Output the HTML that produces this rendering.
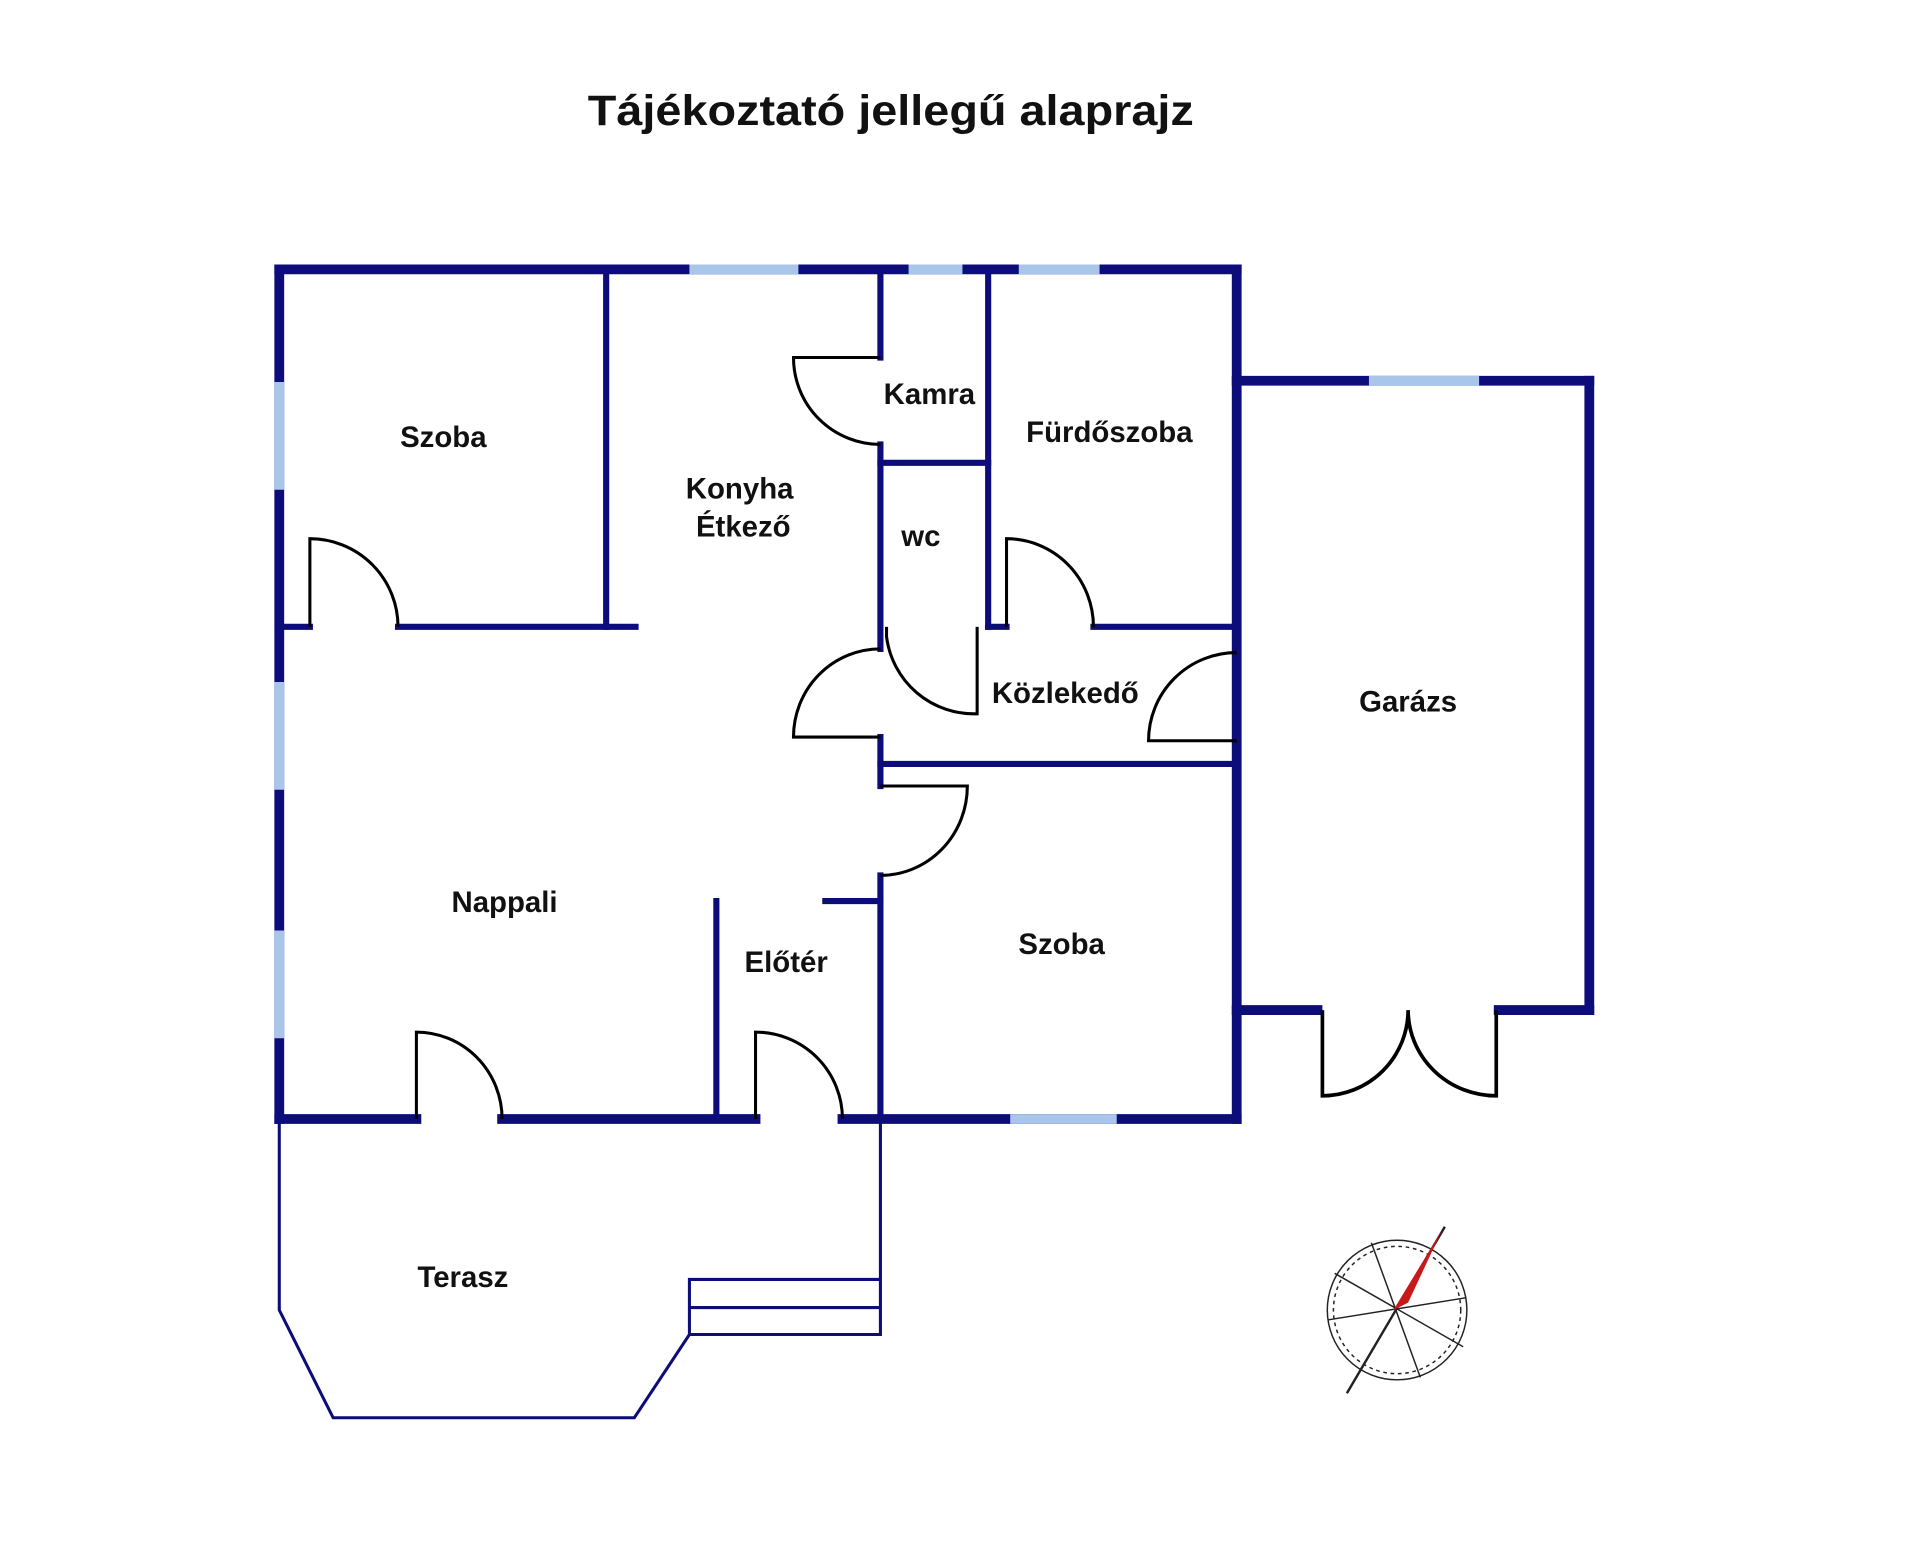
<!DOCTYPE html>
<html><head><meta charset="utf-8"><style>
html,body{margin:0;padding:0;background:#fff;}
svg{display:block;}
text{font-family:"Liberation Sans",sans-serif;font-weight:bold;fill:#111;}
</style></head><body>
<svg width="1920" height="1550" viewBox="0 0 1568 1266" xmlns="http://www.w3.org/2000/svg">
<rect width="1568" height="1266" fill="#fff"/>
<text x="480" y="102" font-size="35" textLength="495" lengthAdjust="spacingAndGlyphs">Tájékoztató jellegű alaprajz</text>
<g stroke="#0c0c7a" stroke-linecap="square" fill="none">
 <g stroke-width="8">
  <line x1="228" y1="220" x2="1010" y2="220"/>
  <line x1="228" y1="220" x2="228" y2="914"/>
  <line x1="1010" y1="220" x2="1010" y2="914"/>
  <line x1="228" y1="914" x2="340" y2="914"/>
  <line x1="410" y1="914" x2="617" y2="914"/>
  <line x1="688" y1="914" x2="1010" y2="914"/>
  <line x1="1010" y1="311" x2="1298" y2="311"/>
  <line x1="1298" y1="311" x2="1298" y2="825"/>
  <line x1="1010" y1="825" x2="1076" y2="825"/>
  <line x1="1224" y1="825" x2="1298" y2="825"/>
 </g>
 <g stroke="#a9c6ea" stroke-width="8" stroke-linecap="butt">
  <line x1="563" y1="220" x2="652" y2="220"/>
  <line x1="742" y1="220" x2="786" y2="220"/>
  <line x1="832" y1="220" x2="898" y2="220"/>
  <line x1="228" y1="312" x2="228" y2="400"/>
  <line x1="228" y1="557" x2="228" y2="645"/>
  <line x1="228" y1="760" x2="228" y2="848"/>
  <line x1="825" y1="914" x2="912" y2="914"/>
  <line x1="1118" y1="311" x2="1208" y2="311"/>
 </g>
 <g stroke-width="5">
  <line x1="495" y1="220" x2="495" y2="512"/>
  <line x1="228" y1="512" x2="253" y2="512"/>
  <line x1="325" y1="512" x2="519" y2="512"/>
  <line x1="719" y1="220" x2="719" y2="292"/>
  <line x1="719" y1="363" x2="719" y2="530"/>
  <line x1="807" y1="220" x2="807" y2="512"/>
  <line x1="719" y1="378" x2="807" y2="378"/>
  <line x1="807" y1="512" x2="822" y2="512"/>
  <line x1="893" y1="512" x2="1010" y2="512"/>
  <line x1="719" y1="602" x2="719" y2="642"/>
  <line x1="719" y1="624" x2="1010" y2="624"/>
  <line x1="719" y1="715" x2="719" y2="914"/>
  <line x1="674" y1="736" x2="719" y2="736"/>
  <line x1="585" y1="736" x2="585" y2="914"/>
 </g>
 <g stroke-width="2.5" stroke-linecap="butt">
  <polyline points="228,916 228,1070 272,1158 518,1158 563,1090 719,1090 719,916"/>
  <polyline points="563,1090 563,1045 719,1045"/>
  <line x1="563" y1="1068" x2="719" y2="1068"/>
 </g>
</g>
<g stroke="#000" stroke-width="2.5" fill="none">
 <path d="M253,512 V440 A72,72 0 0 1 325,512"/>
 <path d="M719,292 H648 A71,71 0 0 0 719,363"/>
 <path d="M724,512 V520 A72,72 0 0 0 798,583 V512"/>
 <path d="M822,512 V440 A71,72 0 0 1 893,512"/>
 <path d="M719,530 A71,72 0 0 0 648,602 H719"/>
 <path d="M1010,533 A72,72 0 0 0 938,605 H1010"/>
 <path d="M719,642 H790 A71,73 0 0 1 719,715"/>
 <path d="M340,914 V843 A70,71 0 0 1 410,914"/>
 <path d="M617,914 V843 A71,71 0 0 1 688,914"/>
 <path d="M1080,825 V895 A70,70 0 0 0 1150,825 A72,70 0 0 0 1222,895 V825" stroke-width="3"/>
</g>
<g font-size="24" text-anchor="middle">
 <text x="362" y="365">Szoba</text>
 <text x="759" y="330">Kamra</text>
 <text x="906" y="361">Fürdőszoba</text>
 <text x="604" y="407">Konyha</text>
 <text x="607" y="438">Étkező</text>
 <text x="752" y="446">wc</text>
 <text x="870" y="574">Közlekedő</text>
 <text x="1150" y="581">Garázs</text>
 <text x="412" y="745">Nappali</text>
 <text x="642" y="794">Előtér</text>
 <text x="867" y="779">Szoba</text>
 <text x="378" y="1051">Terasz</text>
</g>
<g fill="none" stroke="#222" stroke-width="1.2">
 <circle cx="1141" cy="1070" r="57"/>
 <circle cx="1141" cy="1070" r="52" stroke-dasharray="3 3"/>
 <line x1="1090" y1="1040" x2="1195" y2="1100"/>
 <line x1="1085" y1="1078" x2="1197" y2="1060"/>
 <line x1="1120" y1="1015" x2="1160" y2="1125"/>
 <line x1="1100" y1="1138" x2="1180" y2="1002" stroke-width="2"/>
</g>
<polygon points="1178,1004 1138,1070 1150,1064" fill="#c81818"/>
</svg>
</body></html>
